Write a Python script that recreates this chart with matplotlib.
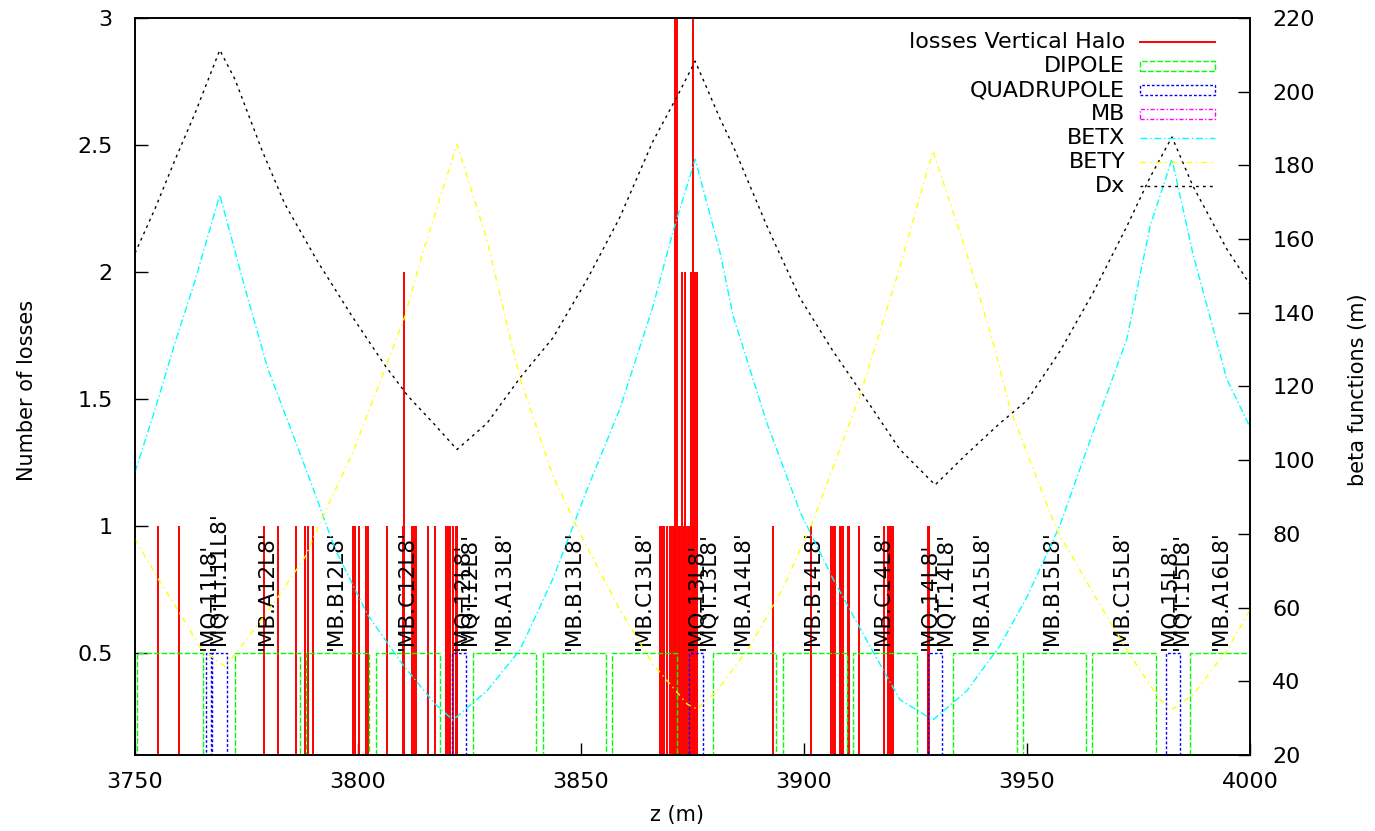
import matplotlib
matplotlib.use("Agg")
import matplotlib.pyplot as plt
from matplotlib.patches import Rectangle
from matplotlib.lines import Line2D

# Data
# ----------------------------
loss_z = [3755.2, 3759.9, 3779.0, 3782.1, 3786.1, 3788.1, 3788.7, 3789.8, 3798.9, 3799.3,
          3800.2, 3801.9, 3802.3, 3806.4, 3810.0, 3810.3, 3812.0, 3812.6, 3812.9, 3815.7,
          3817.2, 3819.7, 3820.2, 3820.7, 3821.3, 3821.9, 3822.3,
          3867.6, 3868.2, 3868.7, 3869.3, 3869.9, 3870.4, 3870.8, 3871.1, 3871.5, 3871.9,
          3872.3, 3872.6, 3873.0, 3873.4, 3873.7, 3874.1, 3874.6, 3875.1, 3875.4, 3875.6, 3876.0,
          3893.1, 3901.6, 3906.0, 3906.5, 3906.9, 3908.0, 3908.4, 3908.8, 3909.8, 3910.1,
          3912.4, 3917.9, 3918.9, 3919.3, 3919.6, 3920.0, 3927.7, 3928.1]
loss_n = [1, 1, 1, 1, 1, 1, 1, 1, 1, 1,
          1, 1, 1, 1, 1, 2, 1, 1, 1, 1,
          1, 1, 1, 1, 1, 1, 1,
          1, 1, 1, 1, 1, 1, 1, 3, 3, 1,
          1, 2, 1, 2, 1, 1, 2, 3, 1, 2, 2,
          1, 1, 1, 1, 1, 1, 1, 1, 1, 1,
          1, 1, 1, 1, 1, 1, 1, 1]

dipole_start = [3750.5, 3772.4, 3788.3, 3804.0, 3825.8, 3841.5, 3857.0, 3879.6, 3895.3,
                3911.0, 3933.3, 3949.0, 3964.5, 3986.5]
dipole_end = [3765.3, 3787.0, 3802.5, 3818.4, 3840.0, 3855.7, 3871.5, 3893.7, 3909.6,
              3925.3, 3947.7, 3963.2, 3978.9, 4000.9]

quad_start = [3765.9, 3767.3, 3821.0, 3874.3, 3927.7, 3981.1]
quad_end = [3767.1, 3770.6, 3824.2, 3877.4, 3931.0, 3984.4]

elem_names = ["'MQ.11L8'", "'MQTLI.11L8'", "'MB.A12L8'", "'MB.B12L8'", "'MB.C12L8'",
              "'MQ.12L8'", "'MQT.12L8'", "'MB.A13L8'", "'MB.B13L8'", "'MB.C13L8'",
              "'MQ.13L8'", "'MQT.13L8'", "'MB.A14L8'", "'MB.B14L8'", "'MB.C14L8'",
              "'MQ.14L8'", "'MQT.14L8'", "'MB.A15L8'", "'MB.B15L8'", "'MB.C15L8'",
              "'MQ.15L8'", "'MQT.15L8'", "'MB.A16L8'"]
elem_z = [3766.4, 3768.8, 3779.5, 3795.1, 3810.9,
          3823.4, 3825.0, 3832.6, 3848.4, 3864.2,
          3875.8, 3878.5, 3886.4, 3902.0, 3917.6,
          3928.2, 3931.7, 3939.9, 3955.6, 3971.3,
          3982.0, 3984.7, 3993.4]

betx_z = [3750.0, 3754.5, 3759.0, 3763.5, 3769.0, 3774.7, 3779.8, 3785.2, 3790.4, 3794.8,
          3802.2, 3809.9, 3817.3, 3821.3, 3828.9, 3836.3, 3843.7, 3851.3, 3858.7, 3866.1,
          3870.6, 3875.6, 3881.2, 3884.1, 3891.7, 3899.1, 3906.5, 3914.1, 3921.5, 3928.9,
          3936.5, 3943.9, 3950.0, 3957.4, 3964.8, 3972.4, 3977.6, 3982.5, 3987.2, 3994.8, 4000.0]
betx = [96.8, 113.8, 132.0, 148.9, 172.0, 146.5, 124.7, 107.6, 90.8, 76.0,
        58.0, 44.7, 33.8, 29.5, 37.4, 48.5, 67.8, 91.9, 113.9, 141.6,
        162.0, 181.7, 156.2, 139.2, 110.0, 86.0, 67.8, 51.0, 35.0, 29.5,
        37.4, 49.6, 62.9, 82.4, 107.6, 133.0, 163.5, 181.7, 156.0, 122.0, 109.0]

bety_z = [3750.0, 3755.2, 3759.6, 3765.0, 3770.2, 3774.7, 3782.1, 3788.1, 3792.6, 3798.7,
          3806.0, 3810.5, 3813.9, 3817.3, 3822.2, 3828.9, 3836.3, 3843.7, 3849.8, 3858.7,
          3866.1, 3873.8, 3876.0, 3880.5, 3887.9, 3895.3, 3902.0, 3912.5, 3921.5, 3928.9,
          3936.5, 3942.4, 3946.2, 3956.7, 3964.8, 3972.4, 3979.8, 3982.7, 3987.2, 3994.8, 4000.0]
bety = [78.6, 67.8, 59.3, 48.5, 44.0, 50.8, 62.9, 73.7, 86.0, 101.7,
        124.7, 139.0, 153.8, 167.0, 185.8, 159.8, 122.3, 95.7, 80.0, 59.4,
        44.7, 33.8, 32.5, 37.4, 49.6, 65.3, 83.5, 117.4, 152.4, 184.0,
        156.0, 132.0, 113.9, 81.0, 64.0, 48.4, 35.0, 32.5, 36.3, 48.4, 59.3]

dx_z = [3750.0, 3754.5, 3759.0, 3763.5, 3769.0, 3772.4, 3778.5, 3783.6, 3791.0, 3798.7,
        3806.0, 3811.2, 3817.3, 3822.2, 3828.9, 3836.3, 3843.7, 3851.3, 3858.7, 3866.1,
        3871.5, 3875.6, 3881.2, 3884.1, 3891.7, 3899.1, 3906.5, 3914.1, 3921.5, 3929.4,
        3936.5, 3943.9, 3950.0, 3957.4, 3964.8, 3972.4, 3977.6, 3982.5, 3987.2, 3994.8, 4000.0]
dx = [156.2, 168.3, 181.6, 194.3, 211.3, 203.4, 184.0, 169.5, 153.8, 139.0,
      125.8, 117.4, 109.5, 102.9, 110.0, 122.3, 133.2, 148.9, 165.9, 186.5,
      198.6, 208.3, 192.6, 185.3, 163.5, 144.0, 129.6, 116.2, 102.9, 93.3,
      101.7, 110.0, 116.2, 129.6, 145.4, 163.5, 176.8, 187.7, 174.4, 157.3, 147.7]

x_ticks = [3750, 3800, 3850, 3900, 3950, 4000]
y_ticks = [0.5, 1, 1.5, 2, 2.5, 3]
y_tick_labels = ["0.5", "1", "1.5", "2", "2.5", "3"]
y2_ticks = [20, 40, 60, 80, 100, 120, 140, 160, 180, 200, 220]

# Styles
# ------
RED, GREEN, BLUE, MAGENTA, CYAN, YELLOW = "#ff0000", "#00ff00", "#0000ff", "#ff00ff", "#00ffff", "#ffff00"
ls_dip = (0, (4, 1.5))
ls_quad = (0, (2, 1.5))
ls_mb = (0, (3, 1.5, 1, 1.5))
ls_betx = (0, (5, 2, 1, 2))
ls_bety = (0, (4, 3, 1, 3))
ls_dx = (0, (2, 3))

plt.rcParams['font.family'] = ['DejaVu Sans']

fig = plt.figure(figsize=(13.75, 8.31), dpi=100)
ax = fig.add_axes([0.0982, 0.0915, 0.8109, 0.8868])

# losses as impulses
ax.vlines(loss_z, 0, loss_n, colors=RED, lw=1.4, zorder=2)

# dipole and quadrupole boxes
for z0, z1 in zip(dipole_start, dipole_end):
    ax.add_patch(Rectangle((z0, 0), z1 - z0, 0.5, fill=False, ec=GREEN, lw=1.0, ls=ls_dip, zorder=3))
for z0, z1 in zip(quad_start, quad_end):
    ax.add_patch(Rectangle((z0, 0), z1 - z0, 0.5, fill=False, ec=BLUE, lw=1.0, ls=ls_quad, zorder=4))

# element names
for name, z in zip(elem_names, elem_z):
    ax.text(z, 0.515, name, rotation=90, ha='center', va='bottom', fontsize=15.5, color='black', zorder=5)

ax.set_xlim(3750, 4000)
ax.set_ylim(0.1, 3)
ax.set_xticks(x_ticks)
ax.set_yticks(y_ticks)
ax.set_yticklabels(y_tick_labels)
ax.tick_params(axis='both', direction='in', length=9, width=1, labelsize=16, right=False, top=False)
ax.tick_params(axis='y', pad=16)
ax.tick_params(axis='x', pad=12)
ax.set_xlabel("z (m)", fontsize=15)
ax.set_ylabel("Number of losses", fontsize=15)
ax.xaxis.set_label_coords(0.486, -0.068)
ax.yaxis.set_label_coords(-0.088, 0.495)

# optics on the right axis
ax2 = ax.twinx()
ax2.plot(betx_z, betx, color=CYAN, lw=1.0, ls=ls_betx)
ax2.plot(bety_z, bety, color=YELLOW, lw=1.0, ls=ls_bety)
ax2.plot(dx_z, dx, color='black', lw=1.0, ls=ls_dx)
ax2.set_ylim(20, 220)
ax2.set_yticks(y2_ticks)
ax2.tick_params(axis='y', direction='in', length=9, width=1, labelsize=16, pad=16)
ax2.set_ylabel("beta functions (m)", fontsize=15)
ax2.yaxis.set_label_coords(1.088, 0.495)

for a in (ax, ax2):
    for s in a.spines.values():
        s.set_linewidth(1.2)

# gnuplot-like key, top right
key_labels = ["losses Vertical Halo", "DIPOLE", "QUADRUPOLE", "MB", "BETX", "BETY", "Dx"]
key_y = [(755 - y) / 737 for y in [42, 66, 90, 114, 138, 162, 186]]
x_txt, x0, x1 = 0.888, 0.9013, 0.9686
for lab, y in zip(key_labels, key_y):
    ax2.text(x_txt, y, lab, transform=ax2.transAxes, ha='right', va='center', fontsize=16)
ax2.add_line(Line2D([x0, x1], [key_y[0]] * 2, transform=ax2.transAxes, color=RED, lw=1.4))
h = 0.014
for y, c, ls in zip(key_y[1:4], [GREEN, BLUE, MAGENTA], [ls_dip, ls_quad, ls_mb]):
    ax2.add_patch(Rectangle((x0, y - h / 2), x1 - x0, h, transform=ax2.transAxes,
                            fill=False, ec=c, lw=1.0, ls=ls, clip_on=False))
for y, c, ls in zip(key_y[4:], [CYAN, YELLOW, 'black'], [ls_betx, ls_bety, ls_dx]):
    ax2.add_line(Line2D([x0, x1], [y, y], transform=ax2.transAxes, color=c, lw=1.0, ls=ls))

fig.savefig("out.png", dpi=100)
